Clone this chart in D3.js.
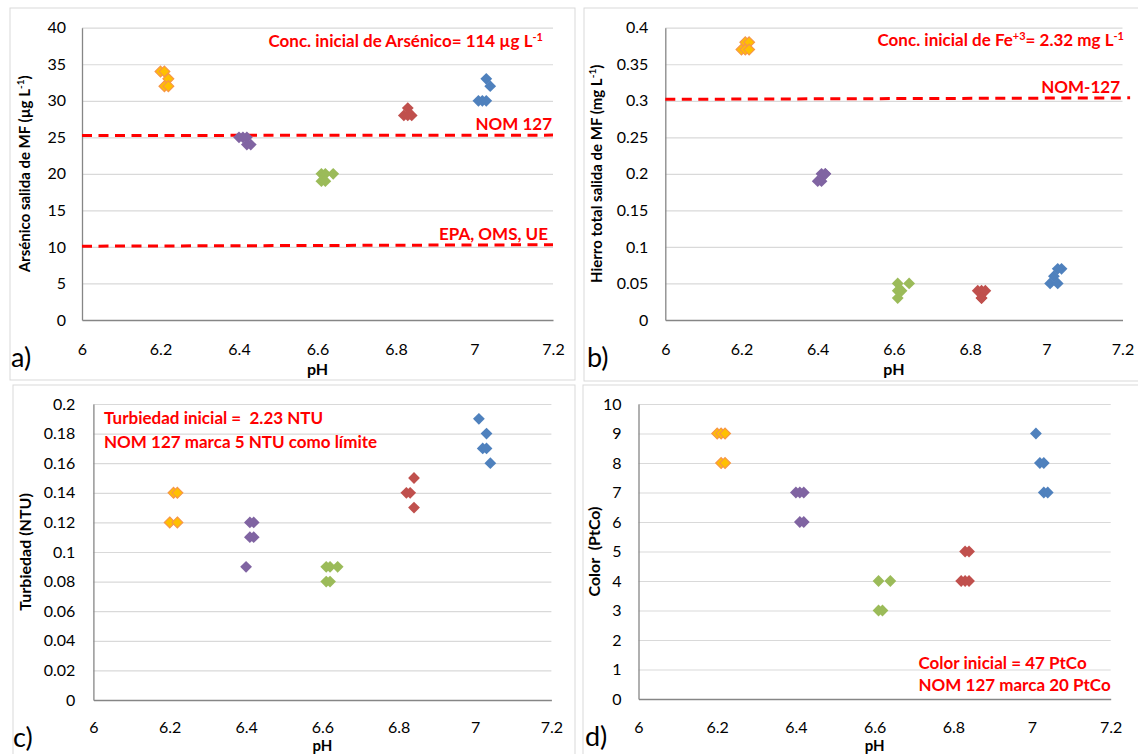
<!DOCTYPE html>
<html><head><meta charset="utf-8">
<script src="https://cdn.jsdelivr.net/npm/d3@7"></script>
<style>
body{margin:0;background:#fff}
svg{display:block}
text{font-family:Lato,Carlito,"Liberation Sans",sans-serif;white-space:pre}
</style>
</head><body>
<svg id="chart" width="1138" height="754"></svg>
<script>
// ---------- tick values ----------
const phTicks = [6, 6.2, 6.4, 6.6, 6.8, 7, 7.2];
const arsenicTicks = [0, 5, 10, 15, 20, 25, 30, 35, 40];
const ironTicks = [0, 0.05, 0.1, 0.15, 0.2, 0.25, 0.3, 0.35, 0.4];
const turbTicks = [0, 0.02, 0.04, 0.06, 0.08, 0.1, 0.12, 0.14, 0.16, 0.18, 0.2];
const colorTicks = [0, 1, 2, 3, 4, 5, 6, 7, 8, 9, 10];

const seriesNames = ["pH 6.2", "pH 6.4", "pH 6.6", "pH 6.8", "pH 7.0"];

// ---------- a) arsenic (µg/L) ----------
const arsenic62 = [[6.20,34],[6.21,34],[6.22,33],[6.21,32],[6.22,32]];
const arsenic64 = [[6.40,25],[6.41,25],[6.42,25],[6.42,24],[6.43,24]];
const arsenic66 = [[6.61,20],[6.62,20],[6.64,20],[6.61,19],[6.62,19]];
const arsenic68 = [[6.83,29],[6.82,28],[6.84,28],[6.83,28]];
const arsenic70 = [[7.03,33],[7.04,32],[7.01,30],[7.02,30],[7.03,30]];
const arsenicNom127 = [[6,25.25],[7.2,25.3]];
const arsenicEpa = [[6,10.1],[7.2,10.3]];

// ---------- b) iron (mg/L) ----------
const iron62 = [[6.21,0.38],[6.22,0.38],[6.20,0.37],[6.21,0.37],[6.22,0.37]];
const iron64 = [[6.40,0.19],[6.41,0.19],[6.41,0.20],[6.42,0.20],[6.42,0.20]];
const iron66 = [[6.61,0.05],[6.64,0.05],[6.62,0.04],[6.61,0.04],[6.61,0.03]];
const iron68 = [[6.82,0.04],[6.83,0.04],[6.84,0.04],[6.83,0.03],[6.83,0.03]];
const iron70 = [[7.04,0.07],[7.03,0.07],[7.02,0.06],[7.01,0.05],[7.03,0.05]];
const ironNom127 = [[6,0.302],[7.22,0.304]];

// ---------- c) turbidity (NTU) ----------
const turb62 = [[6.21,0.14],[6.22,0.14],[6.20,0.12],[6.22,0.12]];
const turb64 = [[6.41,0.12],[6.42,0.12],[6.41,0.11],[6.42,0.11],[6.40,0.09]];
const turb66 = [[6.61,0.09],[6.62,0.09],[6.64,0.09],[6.61,0.08],[6.62,0.08]];
const turb68 = [[6.84,0.15],[6.82,0.14],[6.83,0.14],[6.84,0.13]];
const turb70 = [[7.01,0.19],[7.03,0.18],[7.02,0.17],[7.03,0.17],[7.04,0.16]];

// ---------- d) colour (PtCo) ----------
const color62 = [[6.20,9],[6.21,9],[6.22,9],[6.21,8],[6.22,8]];
const color64 = [[6.40,7],[6.41,7],[6.42,7],[6.41,6],[6.42,6]];
const color66 = [[6.61,4],[6.64,4],[6.61,3],[6.62,3]];
const color68 = [[6.83,5],[6.84,5],[6.82,4],[6.83,4],[6.84,4]];
const color70 = [[7.01,9],[7.02,8],[7.03,8],[7.03,7],[7.04,7]];

// ---------- styles ----------
const fills = ["#ffc000", "#8064a2", "#9bbb59", "#c0504d", "#4f81bd"];
const strokes = ["#f79646", "none", "none", "none", "none"];
const RED = "#ff0000";
const FONT = "Lato, Carlito, 'Liberation Sans', sans-serif";

const svg = d3.select("#chart");
svg.append("rect").attr("width",1138).attr("height",754).attr("fill","#fff");

function richText(sel, parts, supSize) {
  let raised = false;
  parts.forEach(([s, sup]) => {
    const t = sel.append("tspan").text(s);
    if (sup && !raised) { t.attr("font-size", supSize).attr("dy", -6); raised = true; }
    else if (!sup && raised) { t.attr("dy", 6); raised = false; }
    else if (sup) t.attr("font-size", supSize);
  });
}

const diamond = r => `M0,${-r}L${r},0L0,${r}L${-r},0Z`;

function panel(p) {
  const g = svg.append("g");
  g.append("rect").attr("x", p.frame[0]).attr("y", p.frame[1])
    .attr("width", p.frame[2]).attr("height", p.frame[3])
    .attr("fill", "#fff").attr("stroke", "#d9d9d9").attr("stroke-width", 1);

  const x = d3.scaleLinear().domain([6, 7.2]).range([p.left, p.right]);
  const y = d3.scaleLinear().domain([0, p.yTicks[p.yTicks.length-1]]).range([p.bottom, p.top]);

  // gridlines
  g.append("g").attr("transform", `translate(${p.left},0)`)
    .call(d3.axisLeft(y).tickValues(p.yTicks.slice(1)).tickSize(-(p.right - p.left)).tickFormat(""))
    .call(s => { s.select(".domain").remove(); s.selectAll("line").attr("stroke", "#d9d9d9").attr("stroke-width", 1.2); });

  // y axis
  const ya = g.append("g").attr("transform", `translate(${p.left},0)`)
    .call(d3.axisLeft(y).tickValues(p.yTicks).tickSize(0).tickPadding(p.yPad).tickFormat(p.yFmt));
  ya.attr("font-size", 16).attr("font-family", FONT);
  ya.select(".domain").attr("stroke", "#868686").attr("stroke-width", 1.3);
  ya.selectAll("text").attr("fill", "#000");

  // x axis
  const xa = g.append("g").attr("transform", `translate(0,${p.bottom})`)
    .call(d3.axisBottom(x).tickValues(phTicks).tickSize(0).tickPadding(p.xPad).tickFormat(d => String(d)));
  xa.attr("font-size", 16).attr("font-family", FONT);
  xa.select(".domain").attr("stroke", "#868686").attr("stroke-width", 1.3);
  xa.selectAll("text").attr("fill", "#000");

  // limit lines
  const line = d3.line().x(d => x(d[0])).y(d => y(d[1]));
  (p.limits || []).forEach(l => {
    g.append("path").attr("d", line(l)).attr("fill", "none").attr("stroke", RED)
      .attr("stroke-width", 3).attr("stroke-dasharray", "10,6.5");
  });

  // points
  p.series.forEach((pts, i) => {
    g.append("g").attr("class", "series").attr("data-name", seriesNames[i])
      .selectAll("path").data(pts).join("path")
      .attr("d", diamond(i === 0 ? 5.4 : 5.9))
      .attr("transform", d => `translate(${x(d[0])},${y(d[1])})`)
      .attr("fill", fills[i]).attr("stroke", strokes[i]).attr("stroke-width", 1.2);
  });

  // y title
  const yt = g.append("text")
    .attr("transform", `translate(${p.yTitleX},${(p.top + p.bottom) / 2}) rotate(-90)`)
    .attr("text-anchor", "middle").attr("dy", "0.35em")
    .attr("font-size", p.yTitleSize).attr("font-weight", "bold").attr("fill", "#000");
  richText(yt, p.yTitle, 10);

  // x title
  g.append("text").attr("x", (p.left + p.right) / 2).attr("y", p.xTitleY)
    .attr("text-anchor", "middle").attr("font-size", p.xTitleSize).attr("font-weight", "bold")
    .attr("fill", "#000").text("pH");

  // panel letter
  g.append("text").attr("x", p.letterX).attr("y", p.bottom + 47)
    .attr("font-family", "'Liberation Sans', Arial, sans-serif")
    .attr("font-size", 27).attr("fill", "#000").text(p.letter);

  // annotations
  (p.notes || []).forEach(n => {
    const t = g.append("text").attr("x", n.x).attr("y", n.y)
      .attr("text-anchor", n.anchor || "start")
      .attr("font-size", 17).attr("font-weight", "bold").attr("fill", RED);
    richText(t, n.parts, 11);
  });
}

const fmt2 = d => String(+d.toFixed(2));

// a)
panel({
  frame: [10, 8, 565, 372], left: 82, right: 553, top: 27.7, bottom: 320,
  yTicks: arsenicTicks, yFmt: fmt2, yPad: 16, xPad: 24, xTitleY: 375, xTitleSize: 16,
  series: [arsenic62, arsenic64, arsenic66, arsenic68, arsenic70],
  limits: [arsenicNom127, arsenicEpa],
  yTitleX: 25, yTitleSize: 15, yTitle: [["Arsénico salida de MF (µg L",0],["-1",1],[")",0]],
  letter: "a)", letterX: 11,
  notes: [
    {x: 543, y: 47, anchor: "end", parts: [["Conc. inicial de Arsénico= 114 µg L",0],["-1",1]]},
    {x: 552, y: 130, anchor: "end", parts: [["NOM 127",0]]},
    {x: 548, y: 240, anchor: "end", parts: [["EPA, OMS, UE",0]]}
  ]
});

// b)
panel({
  frame: [584, 8, 560, 373], left: 665.3, right: 1122.5, top: 27.7, bottom: 320,
  yTicks: ironTicks, yFmt: fmt2, yPad: 17, xPad: 24, xTitleY: 375, xTitleSize: 16,
  series: [iron62, iron64, iron66, iron68, iron70],
  limits: [ironNom127],
  yTitleX: 597, yTitleSize: 15, yTitle: [["Hierro total salida de MF (mg L",0],["-1",1],[")",0]],
  letter: "b)", letterX: 587,
  notes: [
    {x: 1124, y: 46, anchor: "end", parts: [["Conc. inicial de Fe",0],["+3",1],["= 2.32 mg L",0],["-1",1]]},
    {x: 1120, y: 92.5, anchor: "end", parts: [["NOM-127",0]]}
  ]
});

// c)
panel({
  frame: [13, 385, 562, 380], left: 93.4, right: 551.4, top: 404, bottom: 700,
  yTicks: turbTicks, yFmt: fmt2, yPad: 18, xPad: 22, xTitleY: 751, xTitleSize: 15,
  series: [turb62, turb64, turb66, turb68, turb70],
  limits: [],
  yTitleX: 25.5, yTitleSize: 16, yTitle: [["Turbiedad (NTU)",0]],
  letter: "c)", letterX: 13,
  notes: [
    {x: 104, y: 424, parts: [["Turbiedad inicial =  2.23 NTU",0]]},
    {x: 104, y: 447.5, parts: [["NOM 127 marca 5 NTU como límite",0]]}
  ]
});

// d)
panel({
  frame: [583, 385, 560, 380], left: 638.5, right: 1110.7, top: 404, bottom: 699,
  yTicks: colorTicks, yFmt: fmt2, yPad: 17, xPad: 23, xTitleY: 751, xTitleSize: 15,
  series: [color62, color64, color66, color68, color70],
  limits: [],
  yTitleX: 594.6, yTitleSize: 16, yTitle: [["Color  (PtCo)",0]],
  letter: "d)", letterX: 585,
  notes: [
    {x: 918.5, y: 668.5, parts: [["Color inicial = 47 PtCo",0]]},
    {x: 918.5, y: 691, parts: [["NOM 127 marca 20 PtCo",0]]}
  ]
});
</script>
</body></html>
